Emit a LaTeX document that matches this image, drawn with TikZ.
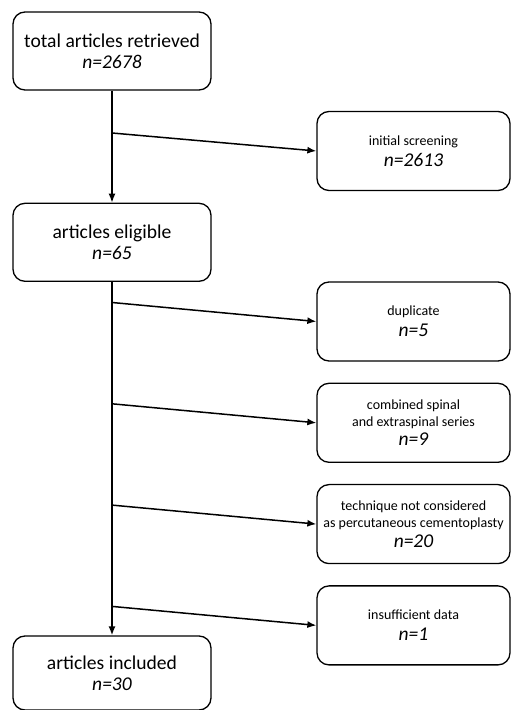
\documentclass[tikz,border=0pt]{standalone}
\usepackage{fontspec}
\setmainfont{Carlito}
\usetikzlibrary{arrows.meta,positioning,calc}

\newcommand{\nval}[1]{{\fontsize{19.5}{21}\selectfont\itshape n=#1}}

\begin{document}
\begin{tikzpicture}[
  x=1pt, y=1pt,
  >=Latex,
  flow/.style={-{Latex[length=9pt,width=7pt]}, line width=1.5pt},
  mainbox/.style={
    draw, rounded corners=12pt, line width=1.3pt, align=center,
    minimum width=198pt, minimum height=78pt,
    font=\fontsize{19.6}{21}\selectfont
  },
  sidebox/.style={
    draw, rounded corners=12pt, line width=1.3pt, align=center,
    minimum width=193pt, minimum height=79pt,
    font=\fontsize{14}{17}\selectfont
  }
]
\useasboundingbox (0,0) rectangle (511,710);

% Main column
\node[mainbox] (tot) at (112,659) {total articles retrieved\\\nval{2678}};
\node[mainbox, below=112pt of tot] (elig) {articles eligible\\\nval{65}};
\node[mainbox, minimum height=74pt] (incl) at (112,37) {articles included\\\nval{30}};

\draw[flow] (tot) -- (elig);
\draw[flow] (elig) -- (incl);

% Excluded records
\node[sidebox] (scr) at (413.5,559) {initial screening\\[4pt]\nval{2613}};
\node[sidebox] (dup) at (413.5,388.5) {duplicate\\[4pt]\nval{5}};
\node[sidebox, below=21pt of dup] (comb) {combined spinal\\and extraspinal series\\[2pt]\nval{9}};
\node[sidebox, below=21pt of comb] (tech) {technique not considered\\as percutaneous cementoplasty\\[3pt]\nval{20}};
\node[sidebox, below=21pt of tech] (insuf) {insufficient data\\[4pt]\nval{1}};

% Branch points on the main line
\path (tot.south |- scr.west) ++(0,18) coordinate (br1);
\path (tot.south |- dup.west) ++(0,19) coordinate (br2);
\path (tot.south |- comb.west) ++(0,19) coordinate (br3);
\path (tot.south |- tech.west) ++(0,19) coordinate (br4);
\path (tot.south |- insuf.west) ++(0,19) coordinate (br5);

\draw[flow] (br1) -- (scr.west);
\draw[flow] (br2) -- (dup.west);
\draw[flow] (br3) -- (comb.west);
\draw[flow] (br4) -- (tech.west);
\draw[flow] (br5) -- (insuf.west);

\end{tikzpicture}
\end{document}
